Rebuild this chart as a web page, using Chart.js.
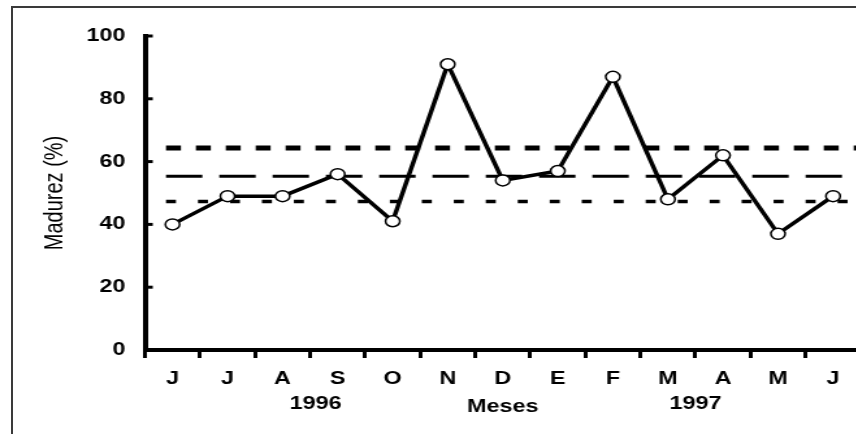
<!DOCTYPE html>
<html>
<head>
<meta charset="utf-8">
<script src="https://cdn.jsdelivr.net/npm/chart.js@4/dist/chart.umd.min.js"></script>
<style>
html, body { margin: 0; padding: 0; background: #fff; width: 856px; height: 434px; overflow: hidden; }
#frame { position: absolute; left: 11px; top: 6px; width: 900px; height: 460px; border: 2px solid #3a3a3a; }
/* the original figure is stretched sideways, so the canvas is too */
#wrap { position: absolute; left: 0; top: 0; width: 680px; height: 434px; transform: scaleX(1.3); transform-origin: 0 0; }
</style>
</head>
<body>
<div id="frame"></div>
<div id="wrap"><canvas id="madurezChart" width="680" height="434"></canvas></div>
<script>
const meses = ["J", "J", "A", "S", "O", "N", "D", "E", "F", "M", "A", "M", "J"];
const madurez = [40, 49, 49, 56, 41, 91, 54, 57, 87, 48, 62, 37, 49];
const yTicks = [0, 20, 40, 60, 80, 100];
// upper limit, mean, lower limit (dashed lines)
const limites = [64.3, 55.3, 47.3];
const anios = ["1996", "1997"];
const aniosPos = [2.6, 9.5];

const FONT = "'Liberation Sans', Arial, sans-serif";
Chart.defaults.font.family = FONT;
Chart.defaults.color = "#000";

const dashStyles = [
	{ dash: [11.5, 11.5], width: 5 },
	{ dash: [28, 13], width: 3 },
	{ dash: [7.7, 16.9], width: 3.5 }
];

const limitLines = {
	id: "limitLines",
	beforeDatasetsDraw(chart) {
		const { ctx, chartArea, scales: { x, y } } = chart;
		const x0 = x.getPixelForValue(0) - 5;
		ctx.save();
		ctx.strokeStyle = "#000";
		limites.forEach((v, i) => {
			const py = y.getPixelForValue(v);
			ctx.lineWidth = dashStyles[i].width;
			ctx.setLineDash(dashStyles[i].dash);
			ctx.beginPath();
			ctx.moveTo(x0, py);
			ctx.lineTo(chartArea.right + 20, py);
			ctx.stroke();
		});
		ctx.restore();
	}
};

// y ticks point inward on this figure
const innerTicks = {
	id: "innerTicks",
	afterDraw(chart) {
		const { ctx, chartArea, scales: { y } } = chart;
		ctx.save();
		ctx.strokeStyle = "#000";
		ctx.lineWidth = 3;
		yTicks.forEach(v => {
			const py = y.getPixelForValue(v);
			ctx.beginPath();
			ctx.moveTo(chartArea.left, py);
			ctx.lineTo(chartArea.left + 6, py);
			ctx.stroke();
		});
		ctx.restore();
	}
};

const yearLabels = {
	id: "yearLabels",
	afterDraw(chart) {
		const { ctx, scales: { x } } = chart;
		ctx.save();
		ctx.fillStyle = "#000";
		ctx.font = "bold 18px " + FONT;
		ctx.textAlign = "center";
		ctx.textBaseline = "middle";
		anios.forEach((a, i) => {
			ctx.fillText(a, x.getPixelForValue(aniosPos[i]), x.top + 54);
		});
		ctx.restore();
	}
};

new Chart(document.getElementById("madurezChart"), {
	type: "line",
	data: {
		labels: meses,
		datasets: [{
			data: madurez,
			borderColor: "#000",
			borderWidth: 3.5,
			pointRadius: 5.5,
			pointBorderWidth: 1.5,
			pointBackgroundColor: "#fff",
			pointBorderColor: "#000",
			tension: 0
		}]
	},
	options: {
		responsive: false,
		animation: false,
		layout: { padding: { left: 28, top: 36, right: 18, bottom: 16 } },
		plugins: { legend: { display: false }, tooltip: { enabled: false } },
		scales: {
			x: {
				offset: true,
				afterFit: axis => { axis.height = 68; },
				grid: { display: true, drawOnChartArea: false, offset: true, tickLength: 8, lineWidth: 3, color: "#000" },
				border: { display: true, width: 4, color: "#000" },
				ticks: { font: { size: 18, weight: "bold" }, padding: 10, maxRotation: 0, autoSkip: false },
				title: { display: true, text: "Meses", font: { size: 18, weight: "bold" }, padding: { top: 7, bottom: 0 } }
			},
			y: {
				min: 0,
				max: 100,
				afterBuildTicks: axis => { axis.ticks = yTicks.map(v => ({ value: v })); },
				afterFit: axis => { axis.width = 83.5; },
				grid: { display: false, drawTicks: false },
				border: { display: true, width: 4, color: "#000" },
				ticks: { font: { size: 18, weight: "bold" }, padding: 15 },
				title: { display: true, text: "Madurez (%)", font: { size: 20 }, padding: { top: 2, bottom: 8 } }
			}
		}
	},
	plugins: [limitLines, innerTicks, yearLabels]
});
</script>
</body>
</html>
